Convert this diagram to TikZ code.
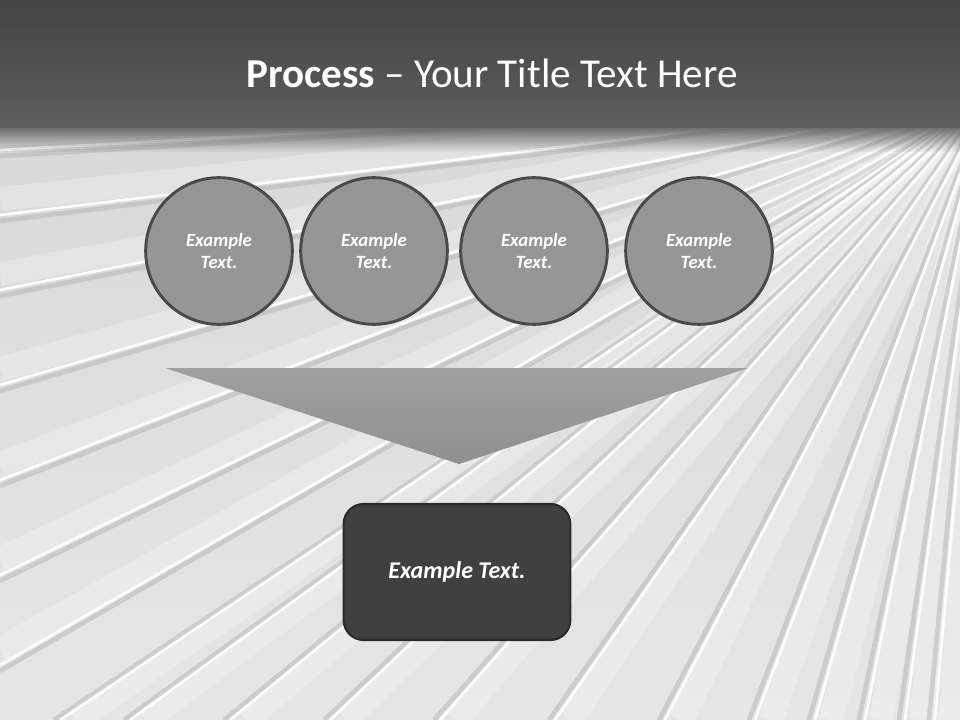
\documentclass[tikz,border=0pt]{standalone}
\usepackage{fontspec}
\setmainfont{Carlito}
\usetikzlibrary{calc}
\definecolor{hdtop}{HTML}{434343}
\definecolor{hdbot}{HTML}{5E5E5E}
\definecolor{bgtop}{HTML}{D6D6D6}
\definecolor{bgbot}{HTML}{E6E6E6}
\definecolor{circfill}{HTML}{969696}
\definecolor{circline}{HTML}{4A4A4A}
\definecolor{tritop}{HTML}{A0A0A0}
\definecolor{tribot}{HTML}{909090}
\definecolor{boxfill}{HTML}{404040}
\definecolor{boxline}{HTML}{2A2A2A}
\definecolor{streakdark}{HTML}{B4B4B4}
\begin{document}
\begin{tikzpicture}[x=0.75pt,y=-0.75pt,
  circ/.style={circle, draw=circline, line width=2.2pt, fill=circfill,
    minimum size=110pt, inner sep=0pt, align=center, text=white,
    font=\bfseries\itshape\fontsize{14}{17}\selectfont},
  boxnode/.style={rectangle, rounded corners=15pt, draw=boxline, line width=1.6pt,
    fill=boxfill, minimum width=170pt, minimum height=102pt, text=white,
    font=\bfseries\itshape\fontsize{18}{21}\selectfont},
  streak/.style={white, line width=2pt, opacity=0.95},
  shadow/.style={streakdark, line width=3.5pt, opacity=0.5},
  band/.style={white, line width=18pt, opacity=0.25}]
\useasboundingbox (0,0) rectangle (960,720);
% background
\shade[top color=bgtop, bottom color=bgbot] (0,0) rectangle (960,720);
\coordinate (vp) at (990,95);
\begin{scope}
  \clip (0,120) rectangle (960,720);
  \foreach \yy in {150,215,290,385,480,575,665} {
    \coordinate (s) at (0,\yy);
    \draw[band] ($(s)+(0,-16)$) -- ($(vp)+(0,-1)$);
    \draw[shadow] ($(s)+(0,6)$) -- ($(vp)+(0,3)$);
    \draw[streak] (s) -- (vp);
  }
  \foreach \xx in {60,130,230,330,440,555,665,755,815,865,905,935} {
    \coordinate (s) at (\xx,720);
    \draw[band] ($(s)+(16,0)$) -- ($(vp)+(1,0)$);
    \draw[shadow] ($(s)+(-6,0)$) -- ($(vp)+(-2,0)$);
    \draw[streak] (s) -- (vp);
  }
\end{scope}
% header
\shade[top color=hdtop, bottom color=hdbot] (0,0) rectangle (960,128);
\foreach \i in {0,...,11} {
  \fill[hdbot, opacity={0.85-0.07*\i}] (0,{128+2*\i}) rectangle (960,{130+2*\i});
}
\node[anchor=base, text=white, font=\fontsize{30.8}{36}\selectfont, inner sep=0pt]
  (title) at (492,88) {\textbf{Process} -- Your Title Text Here};
% circles
\node[circ] (c1) at (219,251) {Example\\Text.};
\node[circ] (c2) at (374,251) {Example\\Text.};
\node[circ] (c3) at (534,251) {Example\\Text.};
\node[circ] (c4) at (699,251) {Example\\Text.};
% triangle
\coordinate (tl) at (165,368);
\coordinate (tr) at (748,368);
\coordinate (ta) at (459,464);
\shade[top color=tritop, bottom color=tribot] (tl) -- (tr) -- (ta) -- cycle;
% result box
\node[boxnode] (box) at (457,572) {Example Text.};
\end{tikzpicture}
\end{document}
